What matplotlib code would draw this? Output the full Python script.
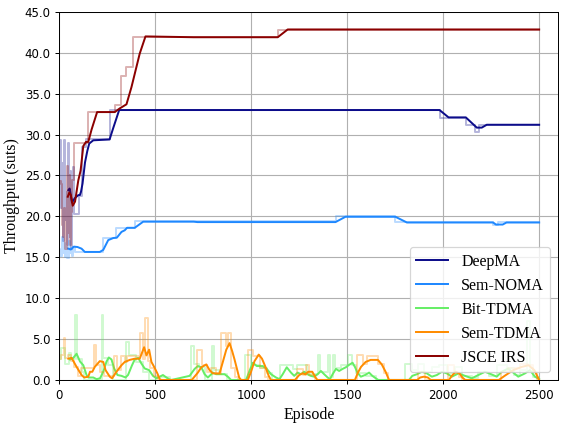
import matplotlib
matplotlib.use("Agg")
import matplotlib.pyplot as plt
import numpy as np
from matplotlib.ticker import FormatStrFormatter

SERIF = ["Liberation Serif", "DejaVu Serif"]

labels = ["DeepMA", "Sem-NOMA", "Bit-TDMA", "Sem-TDMA", "JSCE IRS"]
colors = ["#0c0c8a", "#1e88ff", "#66ee66", "#ff8c00", "#8b0000"]

# raw per-episode throughput (step points: episode, value)
deepma_raw = [(0, 28.0), (5, 29.3), (10, 21.0), (15, 26.5), (20, 17.0), (25, 29.3), (30, 19.5),
              (35, 23.0), (40, 16.5), (45, 29.0), (50, 17.5), (55, 25.5), (60, 16.0), (65, 22.5),
              (70, 26.0), (78, 20.3), (105, 22.5), (120, 28.5), (140, 29.4), (263, 33.0),
              (1985, 32.0), (2120, 31.2), (2165, 30.3), (2185, 31.2), (2500, 31.2)]
semnoma_raw = [(0, 16.0), (6, 15.2), (12, 17.5), (18, 15.5), (24, 16.8), (30, 15.0), (36, 16.3),
               (42, 14.9), (48, 17.0), (54, 15.5), (60, 16.0), (66, 15.2), (72, 16.3), (80, 15.7),
               (229, 17.4), (298, 18.6), (393, 19.4), (1439, 20.0), (1751, 19.3), (2262, 18.9),
               (2285, 19.3), (2500, 19.3)]
bit_raw = [(0, 2.5), (9, 3.9), (30, 2.0), (50, 3.3), (62, 2.6), (82, 8.0), (91, 2.5), (118, 1.0),
           (130, 0.0), (220, 8.0), (230, 2.7), (252, 1.8), (278, 0.0), (345, 4.7), (365, 3.1),
           (402, 2.2), (437, 1.0), (465, 0.0), (505, 0.4), (575, 0.0), (685, 4.1), (700, 2.0),
           (730, 1.6), (760, 0.0), (795, 4.1), (805, 1.2), (830, 0.7), (875, 0.0), (970, 3.0),
           (1000, 1.8), (1045, 1.5), (1080, 0.8), (1110, 0.0), (1150, 1.85), (1215, 1.3),
           (1240, 1.85), (1290, 0.7), (1350, 3.0), (1360, 1.0), (1398, 3.0), (1410, 0.3),
           (1424, 3.0), (1435, 1.5), (1470, 1.8), (1505, 3.0), (1525, 1.8), (1545, 0.9),
           (1600, 0.5), (1650, 0.0), (1800, 2.0), (1840, 1.2), (1870, 2.0), (1900, 1.0),
           (1940, 1.6), (1980, 1.8), (2020, 0.8), (2060, 1.6), (2100, 0.5), (2150, 0.2),
           (2180, 1.0), (2240, 0.5), (2280, 1.8), (2330, 1.4), (2370, 0.6), (2400, 1.2),
           (2435, 7.2), (2450, 1.5), (2470, 0.3), (2500, 0.3)]
semtdma_raw = [(0, 2.5), (8, 3.0), (25, 5.1), (32, 2.7), (45, 3.0), (60, 2.3), (75, 1.6), (95, 0.5),
               (115, 1.5), (180, 4.3), (190, 1.8), (210, 1.0), (235, 0.5), (285, 2.9), (300, 1.2),
               (320, 2.9), (340, 2.2), (355, 2.9), (420, 5.7), (435, 2.6), (448, 7.6), (460, 2.3),
               (475, 1.4), (495, 0.5), (515, 0.0), (715, 3.7), (745, 1.8), (770, 1.0), (790, 1.5),
               (815, 0.7), (845, 5.7), (870, 4.2), (880, 5.7), (895, 1.4), (915, 0.3), (930, 0.0),
               (985, 3.7), (1010, 2.9), (1045, 1.4), (1070, 0.3), (1085, 0.0), (1240, 1.35),
               (1270, 0.6), (1283, 1.8), (1300, 0.6), (1330, 0.0), (1550, 3.0), (1580, 2.0),
               (1605, 2.9), (1660, 1.9), (1690, 0.8), (1710, 0.0), (1870, 1.0), (1905, 0.0),
               (2025, 1.8), (2055, 0.8), (2080, 0.3), (2100, 0.0), (2300, 1.0), (2340, 1.5),
               (2400, 1.9), (2440, 1.8), (2470, 1.0), (2490, 0.0), (2500, 0.0)]
jsce_raw = [(0, 24.3), (8, 24.0), (14, 19.0), (20, 17.5), (26, 21.0), (32, 16.0), (38, 26.2),
            (44, 18.0), (50, 25.0), (56, 16.5), (62, 20.5), (68, 24.5), (74, 29.0), (151, 32.7),
            (289, 33.6), (321, 37.2), (345, 38.3), (385, 41.9), (1138, 42.8), (2500, 42.8)]

# smoothed curves (episode, value)
deepma_smooth = [(47, 23.2), (54, 23.4), (60, 22.6), (66, 21.7), (72, 21.9), (80, 22.2), (99, 22.6),
                 (107, 22.6), (113, 23.0), (121, 24.0), (134, 26.6), (146, 28.0), (156, 28.9),
                 (177, 29.3), (262, 29.4), (281, 30.8), (312, 33.0), (1981, 33.0), (2028, 32.1),
                 (2118, 32.1), (2175, 30.85), (2201, 30.85), (2227, 31.2), (2500, 31.2)]
semnoma_smooth = [(47, 16.05), (60, 15.95), (76, 16.3), (95, 16.25), (116, 16.05), (133, 15.65),
                  (211, 15.65), (229, 15.9), (255, 17.1), (281, 17.35), (300, 17.4), (324, 18.1),
                  (341, 18.3), (353, 18.6), (393, 18.6), (437, 19.35), (700, 19.35), (720, 19.3),
                  (1439, 19.3), (1491, 19.95), (1751, 19.95), (1811, 19.25), (2260, 19.25),
                  (2275, 19.0), (2310, 19.0), (2330, 19.25), (2500, 19.25)]
bit_smooth = [(56, 2.5), (73, 2.7), (90, 3.2), (108, 2.25), (125, 1.8), (142, 0.6), (151, 0.3),
              (177, 0.3), (194, 0.1), (212, 0.2), (229, 1.0), (246, 2.25), (258, 2.75), (272, 2.5),
              (286, 1.4), (303, 0.6), (324, 0.5), (345, 0.3), (358, 0.6), (379, 1.8), (393, 2.5),
              (411, 2.7), (428, 2.0), (445, 1.4), (468, 1.2), (488, 0.5), (506, 0.2), (523, 0.4),
              (540, 0.6), (558, 0.3), (575, 0.05), (584, 0.0), (679, 0.5), (705, 1.35), (722, 1.7),
              (740, 1.55), (757, 0.7), (774, 0.3), (792, 0.7), (800, 0.9), (817, 0.7), (861, 0.7),
              (878, 0.4), (895, 0.0), (973, 0.0), (991, 1.1), (1008, 2.1), (1029, 1.7), (1060, 1.7),
              (1081, 1.35), (1103, 0.7), (1129, 0.3), (1147, 0.1), (1164, 0.7), (1185, 1.55),
              (1207, 0.9), (1224, 0.5), (1242, 0.9), (1259, 0.7), (1276, 1.0), (1293, 0.7),
              (1310, 0.5), (1328, 0.4), (1346, 0.7), (1363, 1.1), (1380, 0.7), (1398, 0.3),
              (1410, 0.1), (1424, 0.7), (1441, 1.35), (1458, 1.1), (1476, 1.35), (1493, 1.55),
              (1510, 1.85), (1528, 2.1), (1541, 1.55), (1553, 0.9), (1571, 0.4), (1593, 0.6),
              (1614, 0.9), (1631, 0.5), (1649, 0.2), (1662, 0.0), (1822, 0.0), (1839, 0.5),
              (1863, 0.7), (1889, 1.0), (1915, 0.8), (1941, 0.4), (1967, 0.6), (1993, 1.0),
              (2019, 0.8), (2045, 0.4), (2080, 0.8), (2114, 0.5), (2149, 0.2), (2183, 0.6),
              (2218, 1.0), (2250, 0.7), (2279, 0.4), (2305, 1.0), (2339, 1.4), (2365, 0.9),
              (2391, 0.4), (2426, 0.8), (2452, 1.2), (2478, 0.4), (2500, 0.1)]
semtdma_smooth = [(47, 2.6), (64, 2.7), (90, 1.6), (116, 0.6), (130, 0.3), (151, 0.4), (160, 1.0),
                  (172, 1.0), (185, 1.6), (211, 2.3), (229, 2.2), (241, 1.2), (263, 0.4), (275, 0.2),
                  (298, 1.0), (324, 1.8), (341, 2.2), (367, 2.45), (393, 2.6), (419, 2.6), (442, 4.0),
                  (454, 3.0), (468, 3.7), (480, 2.2), (494, 1.6), (511, 0.8), (523, 0.1), (532, 0.0),
                  (690, 0.0), (722, 0.9), (740, 1.55), (766, 1.9), (783, 1.2), (800, 0.8), (835, 0.8),
                  (852, 2.2), (870, 3.7), (887, 4.5), (901, 3.5), (913, 2.5), (925, 1.4), (937, 0.3),
                  (947, 0.0), (982, 0.0), (999, 1.0), (1017, 2.3), (1039, 3.1), (1056, 2.6),
                  (1074, 1.6), (1091, 0.5), (1103, 0.0), (1228, 0.0), (1250, 0.6), (1266, 0.8),
                  (1283, 0.7), (1297, 1.0), (1318, 1.0), (1335, 0.3), (1345, 0.0), (1540, 0.0),
                  (1556, 0.9), (1572, 1.6), (1596, 2.2), (1622, 2.45), (1660, 2.45), (1680, 1.9),
                  (1700, 1.0), (1718, 0.0), (1865, 0.0), (1880, 0.3), (1900, 0.4), (1920, 0.3),
                  (1935, 0.0), (2030, 0.0), (2045, 0.5), (2065, 1.0), (2085, 0.8), (2100, 0.3),
                  (2115, 0.0), (2290, 0.0), (2320, 0.5), (2365, 1.2), (2410, 1.6), (2445, 1.8),
                  (2475, 1.2), (2500, 0.0)]
jsce_smooth = [(44, 22.4), (52, 22.9), (60, 22.6), (70, 21.3), (82, 21.8), (99, 24.4), (111, 25.6),
               (125, 28.6), (139, 29.1), (151, 29.1), (168, 30.6), (197, 32.75), (289, 32.75),
               (315, 33.2), (350, 33.7), (376, 35.8), (419, 39.9), (449, 42.0), (700, 41.9),
               (1138, 41.9), (1190, 42.85), (2500, 42.85)]

raw_series = [deepma_raw, semnoma_raw, bit_raw, semtdma_raw, jsce_raw]
smooth_series = [deepma_smooth, semnoma_smooth, bit_smooth, semtdma_smooth, jsce_smooth]


def main():
    fig, ax = plt.subplots(figsize=(6.4, 4.789), dpi=88.75)
    fig.subplots_adjust(left=0.1044, right=0.983, top=0.972, bottom=0.106)

    for raw, smooth, lab, col in zip(raw_series, smooth_series, labels, colors):
        rx, ry = np.array(raw).T
        ax.plot(rx, ry, color=col, alpha=0.3, lw=1.6, drawstyle="steps-post")
        sx, sy = np.array(smooth).T
        ax.plot(sx, sy, color=col, lw=1.6, label=lab)

    ax.set_xlim(0, 2600)
    ax.set_ylim(0, 45)
    ax.set_yticks(np.arange(0, 46, 5))
    ax.yaxis.set_major_formatter(FormatStrFormatter("%.1f"))
    ax.tick_params(labelsize=9.5)
    ax.grid(True, color="#b0b0b0", lw=0.9)
    ax.set_xlabel("Episode", family=SERIF, fontsize=13)
    ax.set_ylabel("Throughput (suts)", family=SERIF, fontsize=13)
    ax.legend(loc="lower right", prop={"family": SERIF, "size": 13})

    fig.savefig("out.png", dpi=88.75)
    plt.close(fig)


if __name__ == "__main__":
    main()
